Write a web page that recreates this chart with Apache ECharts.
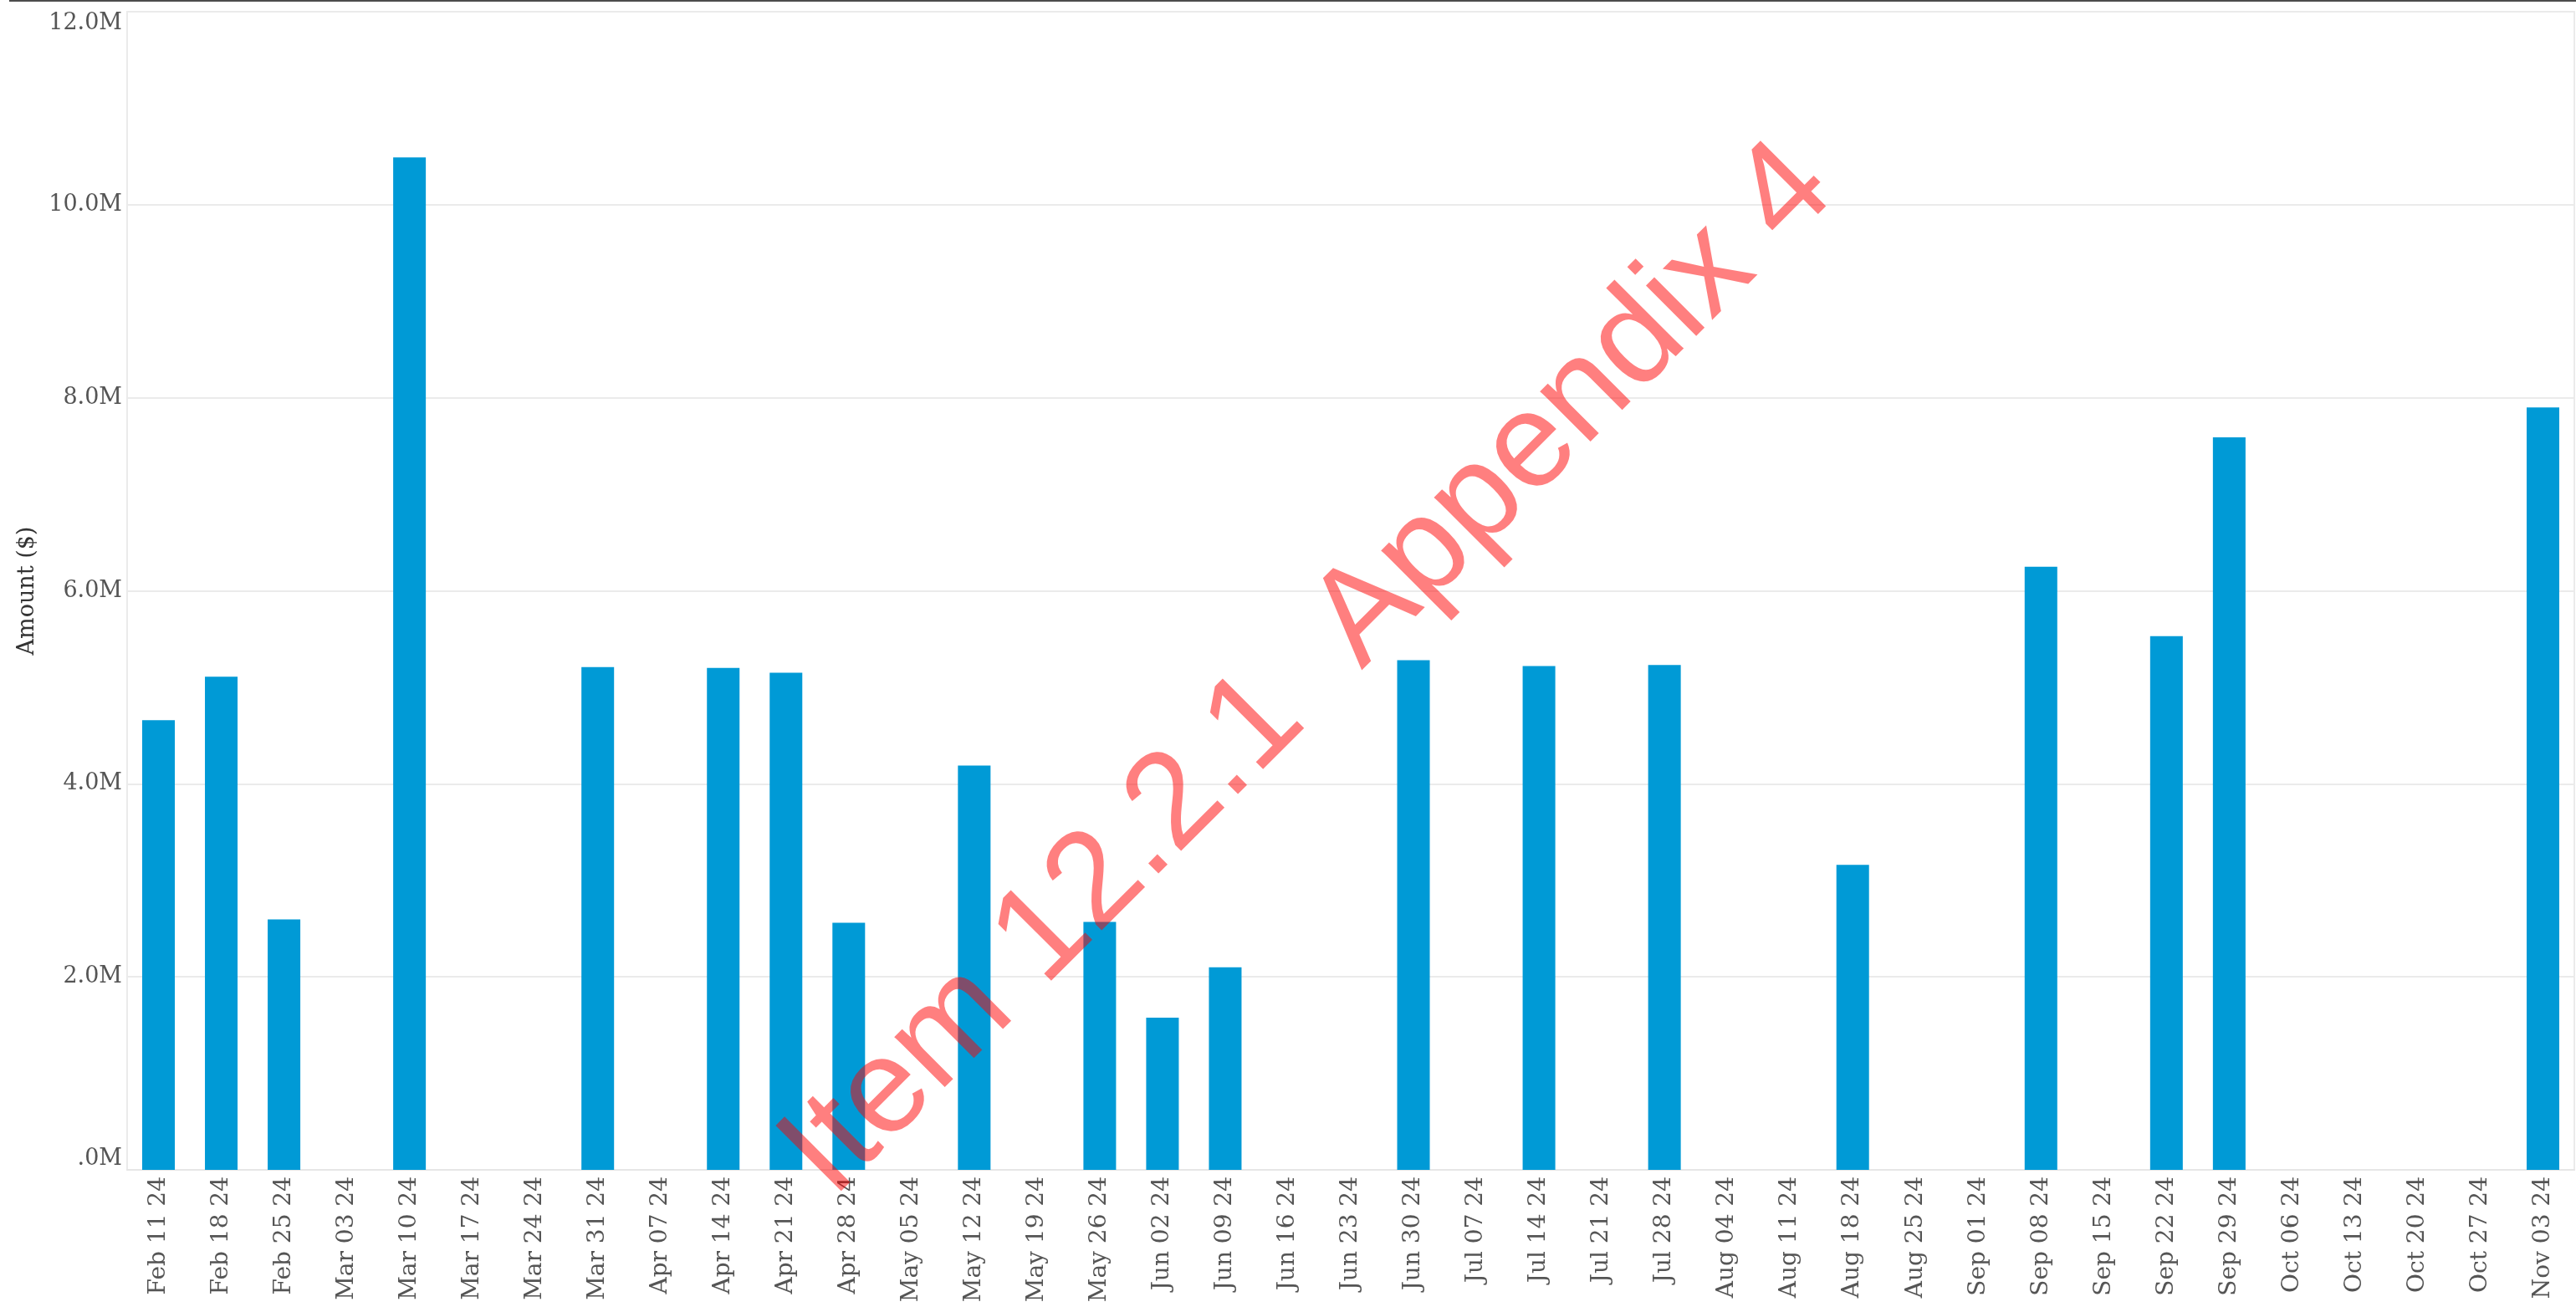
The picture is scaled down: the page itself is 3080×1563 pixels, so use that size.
<!DOCTYPE html>
<html>
<head>
<meta charset="utf-8">
<title>Amount by week</title>
<script src="https://cdn.jsdelivr.net/npm/echarts@6/dist/echarts.min.js"></script>
<style>
  html, body { margin: 0; padding: 0; background: #fff; }
  #chart { width: 3080px; height: 1563px; }
</style>
</head>
<body>
<div id="chart"></div>
<script>
// weekly categories
var weeks = ['Feb 11 24', 'Feb 18 24', 'Feb 25 24', 'Mar 03 24', 'Mar 10 24', 'Mar 17 24',
  'Mar 24 24', 'Mar 31 24', 'Apr 07 24', 'Apr 14 24', 'Apr 21 24', 'Apr 28 24', 'May 05 24',
  'May 12 24', 'May 19 24', 'May 26 24', 'Jun 02 24', 'Jun 09 24', 'Jun 16 24', 'Jun 23 24',
  'Jun 30 24', 'Jul 07 24', 'Jul 14 24', 'Jul 21 24', 'Jul 28 24', 'Aug 04 24', 'Aug 11 24',
  'Aug 18 24', 'Aug 25 24', 'Sep 01 24', 'Sep 08 24', 'Sep 15 24', 'Sep 22 24', 'Sep 29 24',
  'Oct 06 24', 'Oct 13 24', 'Oct 20 24', 'Oct 27 24', 'Nov 03 24'];

// amounts in $ (millions)
var amountsM = [4.66, 5.11, 2.595, 0, 10.49, 0,
  0, 5.21, 0, 5.20, 5.15, 2.56, 0,
  4.19, 0, 2.57, 1.576, 2.10, 0, 0,
  5.28, 0, 5.22, 0, 5.23, 0, 0,
  3.16, 0, 0, 6.25, 0, 5.53, 7.59,
  0, 0, 0, 0, 7.90];

var yMax = 12000000;
var yStep = 2000000;
var watermark = 'Item 12.2.1  Appendix 4';

var amounts = amountsM.map(function (v) { return Math.round(v * 1000000); });

var dom = document.getElementById('chart');
var myChart = echarts.init(dom);

var labelFont = 'DejaVu Serif';

var option = {
  animation: false,
  backgroundColor: '#fff',
  grid: {
    left: 152, right: 2, top: 14, bottom: 164,
    show: true,
    borderColor: '#ebebeb',
    borderWidth: 2,
    containLabel: false
  },
  xAxis: {
    type: 'category',
    data: weeks,
    axisLine: { lineStyle: { color: '#e6e6e6', width: 2 } },
    axisTick: { show: false },
    axisLabel: {
      rotate: 90,
      interval: 0,
      margin: 8,
      color: '#555',
      fontFamily: labelFont,
      fontSize: 28
    }
  },
  yAxis: {
    type: 'value',
    min: 0,
    max: yMax,
    interval: yStep,
    name: 'Amount ($)',
    nameLocation: 'middle',
    nameGap: 106,
    nameTextStyle: { color: '#333', fontFamily: labelFont, fontSize: 27 },
    axisLine: { show: true, lineStyle: { color: '#ebebeb', width: 2 } },
    axisTick: { show: false },
    splitLine: { lineStyle: { color: '#ebebeb', width: 2 } },
    axisLabel: {
      margin: 6,
      color: '#555',
      fontFamily: labelFont,
      fontSize: 27,
      verticalAlignMinLabel: 'bottom',
      verticalAlignMaxLabel: 'top',
      formatter: function (v) {
        if (v === 0) return '.0M';
        return (v / 1000000).toFixed(1) + 'M';
      }
    }
  },
  series: [{
    name: 'Amount',
    type: 'bar',
    data: amounts,
    barWidth: '52%',
    itemStyle: { color: '#009ad6' }
  }],
  graphic: [
    {
      type: 'rect',
      left: 11, top: 0,
      z: 100,
      shape: { width: 3069, height: 2 },
      style: { fill: '#4d4d4d' }
    },
    {
      type: 'text',
      x: 1565, y: 802,
      rotation: Math.PI / 4,
      z: 100,
      style: {
        text: watermark,
        font: '161px "Liberation Sans"',
        fill: 'rgba(255,0,0,0.5)',
        align: 'center',
        verticalAlign: 'middle'
      }
    }
  ]
};

if (option && typeof option === 'object') {
  myChart.setOption(option, true);
}
</script>
</body>
</html>
